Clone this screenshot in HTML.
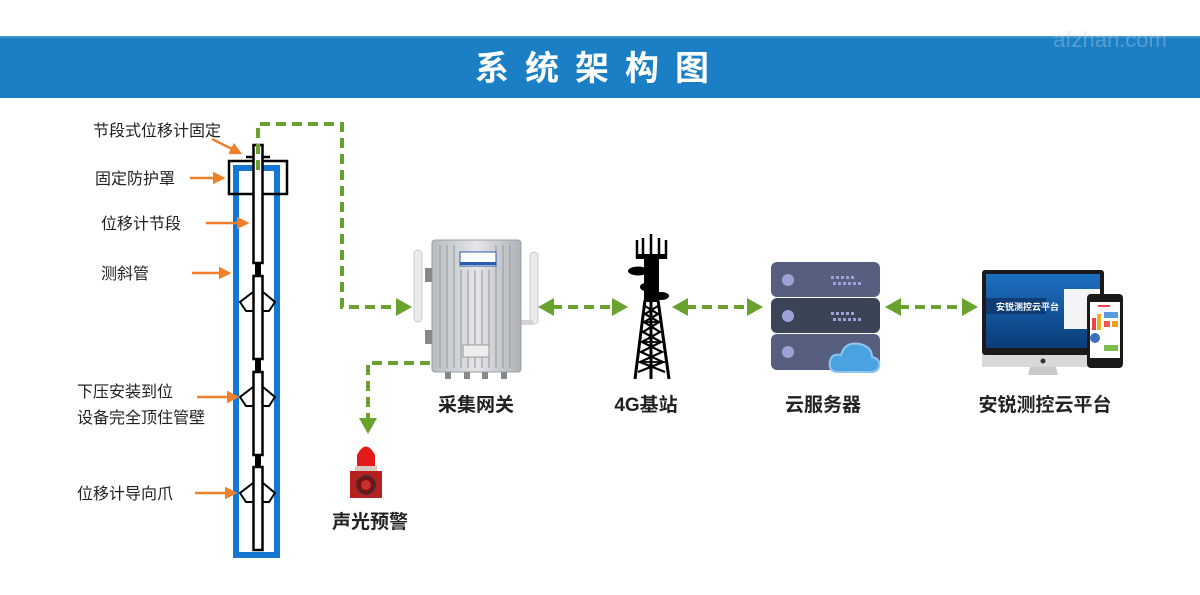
<!DOCTYPE html>
<html><head><meta charset="utf-8"><style>
html,body{margin:0;padding:0;background:#fff;}
body{width:1200px;height:590px;overflow:hidden;font-family:"Liberation Sans","Noto Sans CJK SC",sans-serif;}
</style></head><body>
<svg width="1200" height="590" viewBox="0 0 1200 590" xmlns="http://www.w3.org/2000/svg" font-family="Liberation Sans, Noto Sans CJK SC, sans-serif">
<defs>
<marker id="ah" markerWidth="4" markerHeight="4" refX="2.5" refY="2" orient="auto" markerUnits="strokeWidth"><path d="M0,0 L4,2 L0,4 Z" fill="#6aa22e"/></marker>
<marker id="oa" markerWidth="5" markerHeight="5" refX="4" refY="2.5" orient="auto" markerUnits="strokeWidth"><path d="M0,0 L5,2.5 L0,5 Z" fill="#f07f2a"/></marker>
<linearGradient id="alu" x1="0" x2="1"><stop offset="0" stop-color="#b8bcc0"/><stop offset="0.5" stop-color="#e4e6e8"/><stop offset="1" stop-color="#aeb2b6"/></linearGradient>
<linearGradient id="scr" x1="0" y1="0" x2="0" y2="1"><stop offset="0" stop-color="#1d6fc0"/><stop offset="1" stop-color="#0b3c78"/></linearGradient>
</defs>
<!-- banner -->
<rect x="0" y="36" width="1200" height="62" fill="#1b7fc6"/>
<rect x="0" y="36" width="1200" height="2" fill="#3d95d2"/>
<text x="600" y="80" text-anchor="middle" fill="#fff" font-size="34" font-weight="bold" letter-spacing="16">系统架构图</text>
<text x="1110" y="47" text-anchor="middle" fill="#c8d4de" font-size="22" opacity="0.35">afzhan.com</text>

<!-- inclinometer tube -->
<rect x="236" y="168" width="41" height="387" fill="none" stroke="#1478d2" stroke-width="6"/>
<rect x="229" y="161" width="58" height="33" fill="none" stroke="#000" stroke-width="2.5"/>
<line x1="246" y1="157" x2="270" y2="157" stroke="#000" stroke-width="2.5"/>
<g fill="#fff" stroke="#000" stroke-width="2.5">
<rect x="253.5" y="145" width="9" height="118"/>
<rect x="253.5" y="276" width="9" height="83"/>
<rect x="253.5" y="372" width="9" height="83"/>
<rect x="253.5" y="467" width="9" height="83"/>
</g>
<g fill="#000"><rect x="255" y="263" width="6" height="13"/><rect x="255" y="359" width="6" height="13"/><rect x="255" y="455" width="6" height="12"/></g>
<g fill="none" stroke="#000" stroke-width="2">
<path d="M253,292 L240,302 L246,311 L253,311 M263,292 L275,302 L269,311 L263,311"/>
<path d="M253,387 L240,397 L246,406 L253,406 M263,387 L275,397 L269,406 L263,406"/>
<path d="M253,483 L240,493 L246,502 L253,502 M263,483 L275,493 L269,502 L263,502"/>
</g>

<!-- labels left -->
<g font-size="16" fill="#222">
<text x="93" y="136">节段式位移计固定</text>
<text x="95" y="184">固定防护罩</text>
<text x="101" y="229">位移计节段</text>
<text x="101" y="279">测斜管</text>
<text x="77" y="397">下压安装到位</text>
<text x="77" y="423">设备完全顶住管壁</text>
<text x="77" y="499">位移计导向爪</text>
</g>
<g stroke="#f07f2a" stroke-width="2.5" fill="none" marker-end="url(#oa)">
<line x1="212" y1="139" x2="240" y2="153"/>
<line x1="190" y1="178" x2="223" y2="178"/>
<line x1="206" y1="223" x2="247" y2="223"/>
<line x1="192" y1="273" x2="229" y2="273"/>
<line x1="197" y1="397" x2="237" y2="397"/>
<line x1="195" y1="493" x2="235" y2="493"/>
</g>

<!-- green dashed connectors -->
<g stroke="#6aa22e" stroke-width="4" fill="none" stroke-dasharray="10,6">
<path d="M258,170 L258,124 L342,124 L342,307 L400,307"/>
<path d="M430,363 L368,363 L368,422"/>
<path d="M552,307 L614,307"/>
<path d="M686,307 L749,307"/>
<path d="M899,307 L964,307"/>
</g>
<g fill="#6aa22e">
<path d="M412,307 L396,298 L396,316 Z"/>
<path d="M368,434 L359,418 L377,418 Z"/>
<path d="M538,307 L554,298 L554,316 Z"/><path d="M628,307 L612,298 L612,316 Z"/>
<path d="M672,307 L688,298 L688,316 Z"/><path d="M763,307 L747,298 L747,316 Z"/>
<path d="M885,307 L901,298 L901,316 Z"/><path d="M978,307 L962,298 L962,316 Z"/>
</g>

<!-- gateway -->
<rect x="414" y="250" width="8" height="72" rx="4" fill="#e8eaec" stroke="#c8ccd0"/>
<rect x="530" y="252" width="8" height="72" rx="4" fill="#e8eaec" stroke="#c8ccd0"/>
<rect x="519" y="320" width="14" height="5" fill="#d0d4d8"/>
<rect x="432" y="240" width="89" height="132" rx="3" fill="url(#alu)" stroke="#9aa0a6"/>
<g stroke="#9ca2a8" stroke-width="1.2">
<line x1="440" y1="245" x2="440" y2="368"/><line x1="447" y1="245" x2="447" y2="368"/><line x1="454" y1="245" x2="454" y2="368"/><line x1="461" y1="270" x2="461" y2="368"/><line x1="468" y1="270" x2="468" y2="368"/><line x1="475" y1="270" x2="475" y2="368"/><line x1="482" y1="270" x2="482" y2="368"/><line x1="489" y1="270" x2="489" y2="368"/><line x1="496" y1="245" x2="496" y2="368"/><line x1="503" y1="245" x2="503" y2="368"/><line x1="510" y1="245" x2="510" y2="368"/>
</g>
<rect x="460" y="252" width="36" height="14" fill="#fff" stroke="#2a5caa" stroke-width="1"/>
<rect x="460" y="262" width="36" height="3" fill="#2a5caa"/>
<rect x="463" y="345" width="26" height="12" fill="#eee" stroke="#999"/>
<g fill="#888"><rect x="445" y="372" width="6" height="7"/><rect x="464" y="372" width="6" height="7"/><rect x="482" y="372" width="6" height="7"/><rect x="501" y="372" width="6" height="7"/><rect x="425" y="268" width="7" height="14"/><rect x="425" y="330" width="7" height="14"/></g>

<!-- alarm -->
<path d="M357,470 L357,455 Q366,438 375,455 L375,470 Z" fill="#e21a1a"/>
<rect x="355" y="466" width="22" height="6" fill="#d8c8c0"/>
<rect x="350" y="471" width="32" height="27" fill="#b52020"/>
<circle cx="366" cy="485" r="9" fill="#7a1010" stroke="#333" stroke-width="1.5"/>
<circle cx="366" cy="485" r="5" fill="#c83030"/>
<text x="370" y="528" text-anchor="middle" font-size="19" font-weight="bold" fill="#222">声光预警</text>

<!-- tower -->
<g fill="#000" stroke="#000">
<g stroke-width="2.5"><line x1="637" y1="240" x2="637" y2="258"/><line x1="643" y1="238" x2="643" y2="258"/><line x1="651" y1="234" x2="651" y2="258"/><line x1="659" y1="238" x2="659" y2="258"/><line x1="666" y1="240" x2="666" y2="258"/></g>
<rect x="636" y="254" width="31" height="5" stroke="none"/>
<rect x="644" y="258" width="15" height="44" stroke="none"/>
<ellipse cx="638" cy="271" rx="10" ry="4.5" stroke="none"/>
<ellipse cx="661" cy="296" rx="8" ry="4" stroke="none"/>
<ellipse cx="646" cy="287" rx="6" ry="4" stroke="none"/>
<path d="M645,300 L635,379 M658,300 L669,379 M651,300 L651,379" fill="none" stroke-width="3"/>
<path d="M645,306 L658,314 L644,322 L660,332 L642,342 L662,352 L640,362 L665,372 M658,306 L645,314 L659,322 L643,332 L661,342 L641,352 L663,362 L638,372" fill="none" stroke-width="2.2"/>
<path d="M643,322 L660,322 M642,342 L662,342 M640,362 L665,362" stroke-width="1.8"/>
</g>

<!-- server -->
<rect x="771" y="262" width="109" height="35" rx="6" fill="#575f81"/>
<rect x="771" y="298" width="109" height="35" rx="6" fill="#3b4356"/>
<rect x="771" y="334" width="109" height="36" rx="6" fill="#575f81"/>
<g fill="#9aa3d8"><circle cx="788" cy="280" r="6"/><circle cx="788" cy="316" r="6"/><circle cx="788" cy="352" r="6"/></g>
<g fill="#9aa3d8">
<rect x="831" y="276" width="3" height="3"/><rect x="836" y="276" width="3" height="3"/><rect x="841" y="276" width="3" height="3"/><rect x="846" y="276" width="3" height="3"/><rect x="851" y="276" width="3" height="3"/>
<rect x="833" y="282" width="3" height="3"/><rect x="838" y="282" width="3" height="3"/><rect x="843" y="282" width="3" height="3"/><rect x="848" y="282" width="3" height="3"/><rect x="853" y="282" width="3" height="3"/><rect x="858" y="282" width="3" height="3"/>
<rect x="831" y="312" width="3" height="3"/><rect x="836" y="312" width="3" height="3"/><rect x="841" y="312" width="3" height="3"/><rect x="846" y="312" width="3" height="3"/><rect x="851" y="312" width="3" height="3"/>
<rect x="833" y="318" width="3" height="3"/><rect x="838" y="318" width="3" height="3"/><rect x="843" y="318" width="3" height="3"/><rect x="848" y="318" width="3" height="3"/><rect x="853" y="318" width="3" height="3"/><rect x="858" y="318" width="3" height="3"/>
</g>
<path d="M838,372 Q828,372 830,361 Q832,353 841,355 Q845,341 860,344 Q872,347 872,357 Q881,359 879,367 Q877,373 868,372 Z" fill="#4aa3e0" stroke="#8fc6ee" stroke-width="2"/>

<!-- platform -->
<rect x="982" y="270" width="122" height="85" rx="3" fill="#1a1a1a"/>
<rect x="986" y="274" width="114" height="74" fill="url(#scr)"/>
<rect x="986" y="298" width="60" height="16" fill="#0a2a55" opacity="0.6"/>
<text x="996" y="310" font-size="9" fill="#fff" font-weight="bold">安锐测控云平台</text>
<rect x="1064" y="289" width="36" height="40" fill="#f2f4f6"/>
<rect x="982" y="355" width="122" height="12" fill="#d6d8da"/>
<circle cx="1043" cy="361" r="2.5" fill="#333"/>
<path d="M1030,367 L1056,367 L1058,375 L1028,375 Z" fill="#c8cacc"/>
<rect x="1087" y="294" width="36" height="74" rx="4" fill="#1a1a1a"/>
<rect x="1090" y="302" width="30" height="56" fill="#fff"/>
<rect x="1098" y="305" width="12" height="2" fill="#e44"/>
<rect x="1104" y="312" width="14" height="6" fill="#5a9be0"/>
<rect x="1104" y="321" width="6" height="6" fill="#e55"/><rect x="1112" y="321" width="6" height="6" fill="#f0a020"/>
<rect x="1092" y="318" width="4" height="12" fill="#e44"/><rect x="1097" y="314" width="4" height="16" fill="#f0b020"/>
<rect x="1104" y="345" width="14" height="6" fill="#7ac04a"/>
<circle cx="1095" cy="338" r="5" fill="#3a6fc0"/>
<text x="1045" y="411" text-anchor="middle" font-size="19" font-weight="bold" fill="#222">安锐测控云平台</text>

<g font-size="19" font-weight="bold" fill="#222" text-anchor="middle">
<text x="476" y="411">采集网关</text>
<text x="646" y="411">4G基站</text>
<text x="823" y="411">云服务器</text>
</g>
</svg>
</body></html>
